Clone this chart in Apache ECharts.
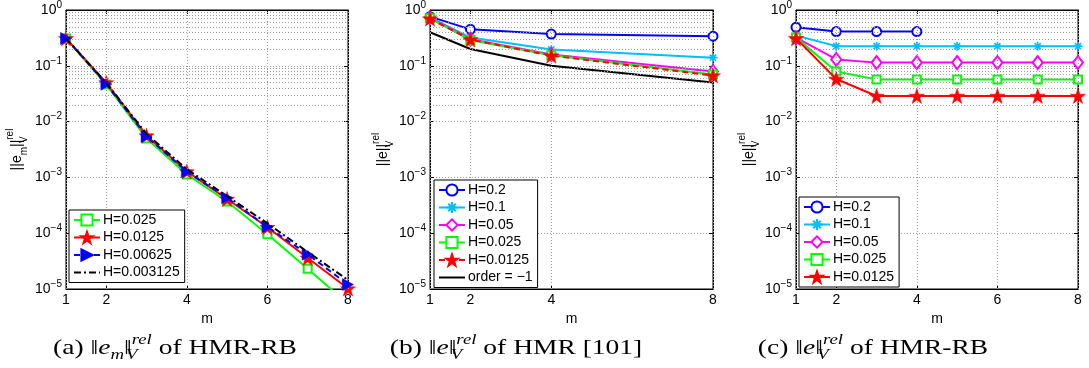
<!DOCTYPE html>
<html><head><meta charset="utf-8">
<script src="https://cdn.jsdelivr.net/npm/echarts@6/dist/echarts.min.js"></script>
<style>html,body{margin:0;padding:0;background:#fff}#c{width:1089px;height:368px}</style>
</head><body><div id="c"></div>
<script>
// ---------- data ----------
const mA = [1, 2, 3, 4, 5, 6, 7, 8];
const a_H0025   = [0.31, 0.046, 0.0050, 0.00113, 3.7e-4, 9.6e-5, 2.3e-5, 5.4e-6];
const a_H00125  = [0.31, 0.050, 0.0056, 0.00128, 4.1e-4, 1.28e-4, 3.6e-5, 1.02e-5];
const a_H000625 = [0.31, 0.047, 0.0054, 0.00126, 4.3e-4, 1.30e-4, 4.2e-5, 1.2e-5];
const a_H0003125= [0.31, 0.049, 0.0060, 0.00140, 4.6e-4, 1.50e-4, 4.6e-5, 1.45e-5];

const mB = [1, 2, 4, 8];
const b_H02    = [0.76, 0.45, 0.37, 0.34];
const b_H01    = [0.74, 0.32, 0.196, 0.14];
const b_H005   = [0.72, 0.30, 0.160, 0.079];
const b_H0025  = [0.71, 0.29, 0.155, 0.070];
const b_H00125 = [0.70, 0.295, 0.152, 0.067];
const b_order  = [0.40, 0.20, 0.10, 0.05];

const mC = [1, 2, 3, 4, 5, 6, 7, 8];
const mC_H02 = [1, 2, 3, 4];
const c_H02    = [0.49, 0.41, 0.41, 0.41];
const c_H01    = [0.35, 0.225, 0.225, 0.225, 0.225, 0.225, 0.225, 0.225];
const c_H005   = [0.32, 0.13, 0.114, 0.114, 0.114, 0.114, 0.114, 0.114];
const c_H0025  = [0.32, 0.079, 0.057, 0.057, 0.057, 0.057, 0.057, 0.057];
const c_H00125 = [0.31, 0.058, 0.0288, 0.0288, 0.0288, 0.0288, 0.0288, 0.0288];

const xTicksAC = [1, 2, 4, 6, 8];
const xTicksB  = [1, 2, 4, 8];
const captions = [
  '{n|(a) ‖}{i|e}{sb|m}{n|‖}{sv|V}{sp|rel}{n| of HMR-RB}',
  '{n|(b) ‖}{i|e}{n|‖}{sv|V}{sp|rel}{n| of HMR [101]}',
  '{n|(c) ‖}{i|e}{n|‖}{sv|V}{sp|rel}{n| of HMR-RB}'
];
const yNames = ['||e{sb|m}||{sv|V}{sp|rel}', '||e||{sv|V}{sp|rel}', '||e||{sv|V}{sp|rel}'];

// ---------- styling ----------
const SANS = 'Liberation Sans';
const SERIF = 'Liberation Serif';
const STAR = 'path://M50,2L61.8,36.2L97.6,36.2L68.6,57.4L79.6,91.8L50,70.6L20.4,91.8L31.4,57.4L2.4,36.2L38.2,36.2Z';
const AST = 'path://M5,0L5,10M0,5L10,5M1.6,1.6L8.4,8.4M8.4,1.6L1.6,8.4';
const C = {blue:'#0000ff', cyan:'#00bfff', mag:'#ff00ff', green:'#00ff00', red:'#ff0000', black:'#000000'};
const ST = {
  circle:  {symbol:'emptyCircle', symbolSize:9},
  ast:     {symbol:AST, symbolSize:9, ast:true},
  diamond: {symbol:'emptyDiamond', symbolSize:[10,13]},
  square:  {symbol:'emptyRect', symbolSize:8},
  star:    {symbol:STAR, symbolSize:15, filled:true},
  tri:     {symbol:'triangle', symbolSize:[12,11], symbolRotate:-90, filled:true},
  none:    {symbol:'circle', symbolSize:1, hidden:true}
};

const grids = [
  {left:66, top:6, width:282, height:283},
  {left:430, top:6, width:283, height:283},
  {left:796, top:6, width:282, height:283}
];

function pairs(xs, ys){ return xs.map((x,i)=>[x, ys[i]]); }

function S(name, gi, xs, ys, color, mk, lineType, z){
  const st = ST[mk];
  return {
    type:'line', name:name, xAxisIndex:gi, yAxisIndex:gi, data:pairs(xs, ys),
    symbol:st.symbol, symbolSize:st.symbolSize, showSymbol:!st.hidden,
    symbolRotate: st.symbolRotate || 0, clip:true, z:z,
    lineStyle:{color:color, width:2, type:lineType||'solid'},
    itemStyle:{color:color, borderColor:color, opacity: st.hidden ? 0 : 1,
               borderWidth: st.ast ? 1.6 : (st.filled ? 0.5 : 1.5)},
    emphasis:{disabled:true}, animation:false
  };
}

const minorY = [];
for (let k=-5;k<0;k++) for (let j=2;j<=9;j++) minorY.push(j*Math.pow(10,k));

function gridLines(gi, xt){
  return {
    type:'line', xAxisIndex:gi, yAxisIndex:gi, data:[], z:1, silent:true, animation:false,
    markLine:{
      silent:true, animation:false, symbol:['none','none'], label:{show:false},
      lineStyle:{color:'#9a9a9a', type:[1,2], width:1},
      emphasis:{disabled:true},
      data: minorY.map(v=>({yAxis:v})).concat(xt.map(v=>({xAxis:v})))
    }
  };
}

const xTicks = [xTicksAC, xTicksB, xTicksAC];
const xAxes = [], yAxes = [];
for (let i=0;i<3;i++){
  xAxes.push({
    type:'value', gridIndex:i, min:1, max:8, position:'bottom',
    name:'m', nameLocation:'middle', nameGap:20,
    nameTextStyle:{fontFamily:SANS, fontSize:14, color:'#000'},
    axisLine:{show:true, onZero:false, lineStyle:{color:'#000', width:1}},
    axisTick:{show:true, inside:true, length:4, customValues:xTicks[i], lineStyle:{color:'#000'}},
    axisLabel:{customValues:xTicks[i], margin:4, fontFamily:SANS, fontSize:14, color:'#000'},
    splitLine:{show:false}
  });
}
for (let i=0;i<3;i++){
  xAxes.push({
    type:'value', gridIndex:i, min:1, max:8, position:'top',
    axisLine:{show:true, onZero:false, lineStyle:{color:'#000', width:1}},
    axisTick:{show:true, inside:true, length:4, customValues:xTicks[i], lineStyle:{color:'#000'}},
    axisLabel:{show:false}, splitLine:{show:false}
  });
}
const yLabelRich = {
  b:{fontFamily:SANS, fontSize:14, color:'#000', lineHeight:20, verticalAlign:'middle'},
  s:{fontFamily:SANS, fontSize:10, color:'#000', lineHeight:9, verticalAlign:'top'}
};
const nameRich = {
  sb:{fontFamily:SANS, fontSize:10, color:'#000', lineHeight:9, verticalAlign:'bottom'},
  sv:{fontFamily:SANS, fontSize:10, color:'#000', lineHeight:9, verticalAlign:'bottom', width:0},
  sp:{fontFamily:SANS, fontSize:10, color:'#000', lineHeight:9, verticalAlign:'top'}
};
for (let i=0;i<3;i++){
  yAxes.push({
    type:'log', logBase:10, gridIndex:i, min:1e-5, max:1, position:'left',
    name:yNames[i], nameLocation:'middle', nameGap:i===0?37:33, nameRotate:90,
    nameTextStyle:{fontFamily:SANS, fontSize:14, color:'#000', lineHeight:24, rich:nameRich},
    axisLine:{show:true, onZero:false, lineStyle:{color:'#000', width:1}},
    axisTick:{show:true, inside:true, length:4, lineStyle:{color:'#000'}},
    axisLabel:{
      margin:4, rich:yLabelRich,
      formatter:function(v){
        const e = Math.round(Math.log10(v));
        return '{b|10}{s|' + (e<0 ? '−'+(-e) : e) + '}';
      }
    },
    splitLine:{show:true, lineStyle:{color:'#9a9a9a', type:[1,2], width:1}}
  });
}
for (let i=0;i<3;i++){
  yAxes.push({
    type:'log', logBase:10, gridIndex:i, min:1e-5, max:1, position:'right',
    axisLine:{show:true, onZero:false, lineStyle:{color:'#000', width:1}},
    axisTick:{show:true, inside:true, length:4, lineStyle:{color:'#000'}},
    axisLabel:{show:false}, splitLine:{show:false}
  });
}

const series = [
  gridLines(0, xTicksAC), gridLines(1, xTicksB), gridLines(2, xTicksAC),
  S('a:H=0.025',   0, mA, a_H0025,   C.green, 'square', 'solid', 3),
  S('a:H=0.0125',  0, mA, a_H00125,  C.red,   'star',   'solid', 4),
  S('a:H=0.00625', 0, mA, a_H000625, C.blue,  'tri',    [6,4], 5),
  S('a:H=0.003125',0, mA, a_H0003125,C.black, 'none',   [7,3,2,3], 6),

  S('b:H=0.2',     1, mB, b_H02,    C.blue,  'circle',  'solid', 3),
  S('b:H=0.1',     1, mB, b_H01,    C.cyan,  'ast',     'solid', 3),
  S('b:H=0.05',    1, mB, b_H005,   C.mag,   'diamond', 'solid', 3),
  S('b:H=0.025',   1, mB, b_H0025,  C.green, 'square',  'solid', 4),
  S('b:H=0.0125',  1, mB, b_H00125, C.red,   'star',    [6,4], 5),
  S('b:order = −1',1, mB, b_order,  C.black, 'none',    'solid', 3),

  S('c:H=0.2',     2, mC_H02, c_H02, C.blue,  'circle',  'solid', 3),
  S('c:H=0.1',     2, mC, c_H01,     C.cyan,  'ast',     'solid', 3),
  S('c:H=0.05',    2, mC, c_H005,    C.mag,   'diamond', 'solid', 3),
  S('c:H=0.025',   2, mC, c_H0025,   C.green, 'square',  'solid', 4),
  S('c:H=0.0125',  2, mC, c_H00125,  C.red,   'star',    'solid', 5)
];

function legend(names, left, top){
  return {
    data:names, orient:'vertical', left:left, top:top,
    itemWidth:26, itemHeight:14, itemGap:3.5, padding:[3,5,3,4],
    backgroundColor:'#fff', borderColor:'#000', borderWidth:1, borderRadius:0,
    textStyle:{fontFamily:SANS, fontSize:14, color:'#000', padding:[0,0,0,-2]},
    formatter:function(n){ return n.slice(2); },
    selectedMode:false, z:20
  };
}

const capRich = {
  n:{fontFamily:SERIF, fontSize:22, fill:'#000', lineHeight:30, verticalAlign:'middle'},
  i:{fontFamily:SERIF, fontSize:22, fontStyle:'italic', fill:'#000', lineHeight:30, verticalAlign:'middle'},
  sb:{fontFamily:SERIF, fontSize:15, fontStyle:'italic', fill:'#000', lineHeight:15, verticalAlign:'bottom'},
  sv:{fontFamily:SERIF, fontSize:15, fontStyle:'italic', fill:'#000', lineHeight:15, verticalAlign:'bottom', width:0},
  sp:{fontFamily:SERIF, fontSize:15, fontStyle:'italic', fill:'#000', lineHeight:15, verticalAlign:'top'}
};

const option = {
  animation:false,
  backgroundColor:'#fff',
  grid: grids.map(g=>Object.assign({show:true, borderColor:'#000', borderWidth:1, backgroundColor:'#fff'}, g)),
  xAxis: xAxes, yAxis: yAxes,
  legend: [
    legend(['a:H=0.025','a:H=0.0125','a:H=0.00625','a:H=0.003125'], 69, 210),
    legend(['b:H=0.2','b:H=0.1','b:H=0.05','b:H=0.025','b:H=0.0125','b:order = −1'], 434, 180),
    legend(['c:H=0.2','c:H=0.1','c:H=0.05','c:H=0.025','c:H=0.0125'], 799, 197)
  ],
  series: series,
  graphic: [175, 516, 873].map((x,i)=>({
    type:'text', x:x, y:348, scaleX:1.25, silent:true,
    style:{ text:captions[i], align:'center', verticalAlign:'middle', rich:capRich }
  }))
};

const chart = echarts.init(document.getElementById('c'), null, {renderer:'canvas'});
chart.setOption(option);
</script>
</body></html>
